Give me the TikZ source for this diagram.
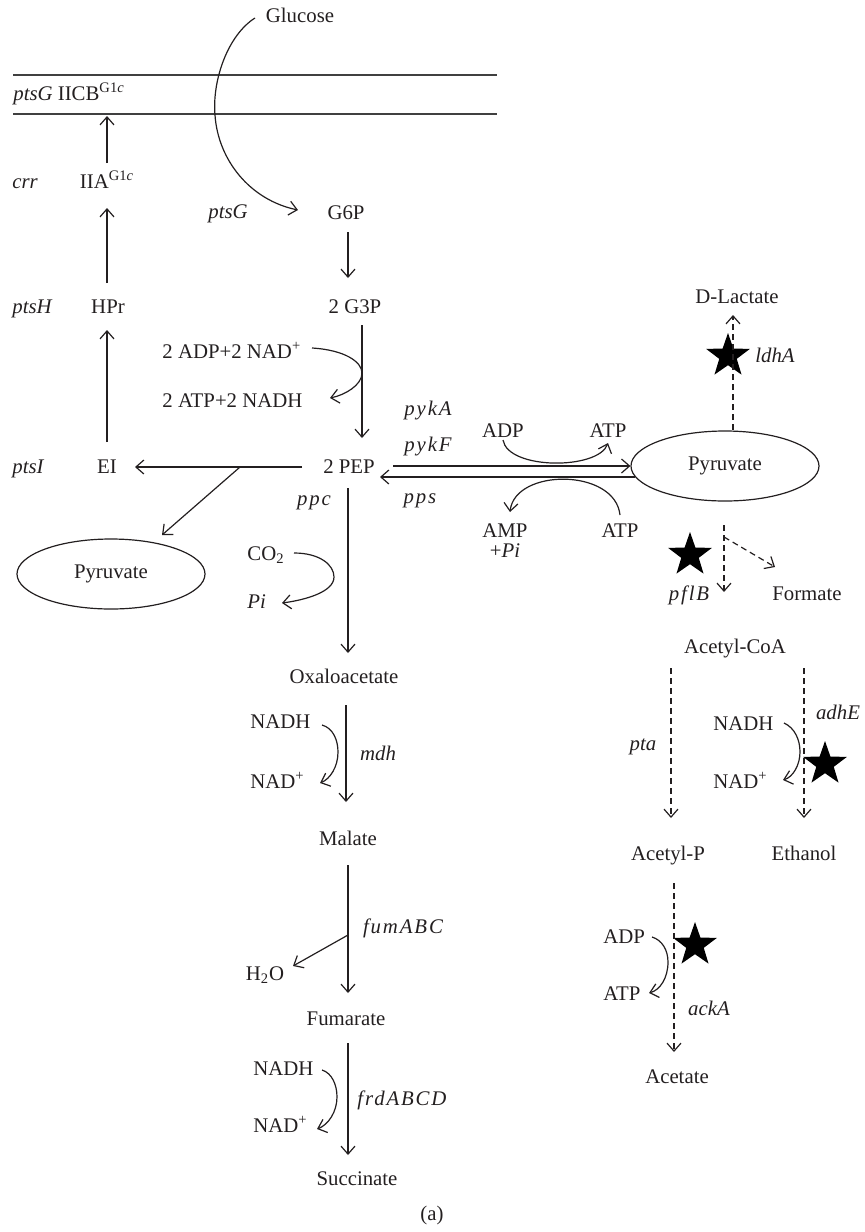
\documentclass[tikz,border=0pt]{standalone}
\usepackage{fontspec}
\setmainfont{Liberation Serif}
\newfontfamily\spfont[LetterSpace=9]{Liberation Serif}
\usetikzlibrary{arrows.meta,shapes.geometric}
\definecolor{ink}{HTML}{231F20}
\definecolor{membcol}{HTML}{404040}
\begin{document}
\begin{tikzpicture}[x=0.5pt,y=-0.5pt,
  every node/.style={inner sep=0pt, text=ink, font=\fontsize{10.4}{12}\selectfont},
  lbl/.style={anchor=base},
  lblw/.style={anchor=base west},
  gene/.style={anchor=base, font=\fontsize{10.4}{12}\selectfont\itshape},
  genew/.style={anchor=base west, font=\fontsize{10.4}{12}\selectfont\itshape},
  sgene/.style={anchor=base, font=\fontsize{10.4}{12}\selectfont\spfont\itshape},
  arr/.style={draw=ink, line width=0.6pt, -{Straight Barb[length=4pt,width=7pt]}},
  darr/.style={arr, dash pattern=on 3pt off 2pt},
  membrane/.style={draw=membcol, line width=0.8pt},
  pool/.style={ellipse, draw=ink, line width=0.6pt, minimum width=94pt, minimum height=35pt},
  kostar/.style={star, star points=5, star point ratio=2.5, fill=black, draw=none, minimum size=23pt, inner sep=0pt},
  ]
\useasboundingbox (0,0) rectangle (864,1232);

% membrane
\draw[membrane] (13,75) -- (497,75);
\draw[membrane] (13,114) -- (497,114);
\coordinate (membin) at (107,116);

% nodes
\node[lbl] (glu) at (300,22) {Glucose};
\node[lblw] (ptsgm) at (13,100) {\textit{ptsG} IICB\textsuperscript{G1\textit{c}}};
\node[genew] (crr) at (12,188) {crr};
\node[lbl] (iia) at (107,188) {IIA\textsuperscript{G1\textit{c}}};
\node[gene] (ptsg) at (228,218) {ptsG};
\node[lbl] (g6p) at (346,219) {G6P};
\node[genew] (ptsh) at (12,313) {ptsH};
\node[lbl] (hpr) at (108,313) {HPr};
\node[lbl] (g3p) at (355,313) {2 G3P};
\node[lblw] (adpnad) at (162,358) {2 ADP+2 NAD\textsuperscript{+}};
\node[lblw] (atpnadh) at (162,407) {2 ATP+2 NADH};
\node[sgene] (pyka) at (428,415) {pykA};
\node[sgene] (pykf) at (428,451) {pykF};
\node[genew] (ptsi) at (12,473) {ptsI};
\node[lbl] (ei) at (107,473) {EI};
\node[lbl] (pep) at (349,473) {2 PEP};
\node[lbl] (adp1) at (503,437) {ADP};
\node[lbl] (atp1) at (608,437) {ATP};
\node[pool] (pyrR) at (725,466) {Pyruvate};
\node[sgene] (pps) at (420,503) {pps};
\node[sgene] (ppc) at (314,505) {ppc};
\node[lbl] (amp) at (505,537) {AMP};
\node[lbl] (pi2) at (505,557) {+\textit{Pi}};
\node[lbl] (atp2) at (620,537) {ATP};
\node[pool] (pyrL) at (111,574) {Pyruvate};
\node[lblw] (co2) at (247,560) {CO\textsubscript{2}};
\node[genew] (pi1) at (247,608) {Pi};
\node[lbl] (dlac) at (737,303) {D-Lactate};
\node[gene] (ldha) at (775,362) {ldhA};
\node[sgene] (pflb) at (689,600) {pflB};
\node[lbl] (form) at (807,600) {Formate};
\node[lbl] (acoa) at (735,653) {Acetyl-CoA};
\node[gene] (pta) at (643,750) {pta};
\node[gene] (adhe) at (838,719) {adhE};
\node[lblw] (nadh3) at (713,730) {NADH};
\node[lblw] (nad3) at (713,788) {NAD\textsuperscript{+}};
\node[lbl] (acp) at (668,860) {Acetyl-P};
\node[lbl] (eth) at (804,860) {Ethanol};
\node[lblw] (adp3) at (603,943) {ADP};
\node[lblw] (atp3) at (603,1000) {ATP};
\node[gene] (acka) at (709,1015) {ackA};
\node[lbl] (acet) at (677,1083) {Acetate};
\node[lbl] (oaa) at (344,683) {Oxaloacetate};
\node[lblw] (nadh1) at (250,728) {NADH};
\node[lblw] (nad1) at (250,788) {NAD\textsuperscript{+}};
\node[gene] (mdh) at (378,760) {mdh};
\node[lbl] (mal) at (348,845) {Malate};
\node[sgene] (fum) at (403,933) {fumABC};
\node[lbl] (h2o) at (265,980) {H\textsubscript{2}O};
\node[lbl] (fumar) at (346,1025) {Fumarate};
\node[lblw] (nadh2) at (253,1075) {NADH};
\node[sgene] (frd) at (402,1105) {frdABCD};
\node[lblw] (nad2) at (253,1132) {NAD\textsuperscript{+}};
\node[lbl] (succ) at (357,1185) {Succinate};
\node[lbl] (capt) at (432,1220) {(a)};

% stars
\node[kostar] (s1) at (728,356) {};
\node[kostar] (s2) at (690,555) {};
\node[kostar] (s3) at (825,764) {};
\node[kostar] (s4) at (695,945) {};

% PTS
\draw[arr] ([shift={(-45,-4)}]glu.base) .. controls (228,35) and (212,80) .. (215,115)
   .. controls (218,160) and (250,200) .. ([shift={(-48,-9)}]g6p.base);
\draw[arr] ([shift={(0,-25)}]iia.base) -- (membin);
\draw[arr] ([shift={(-1,-30)}]hpr.base) -- ([shift={(0,20)}]iia.base);
\draw[arr] ([shift={(0,-31)}]ei.base) -- ([shift={(-1,17)}]hpr.base);

% glycolysis
\draw[arr] ([shift={(2,13)}]g6p.base) -- ([shift={(-7,-35)}]g3p.base);
\draw[arr] ([shift={(7,12)}]g3p.base) -- ([shift={(13,-35)}]pep.base);
\draw[arr] ([shift={(150,-10)}]adpnad.base west) .. controls (345,350) and (362,362) .. (362,373)
   .. controls (362,385) and (345,395) .. ([shift={(168,-9)}]atpnadh.base west);
\draw[arr] ([shift={(-47,-6)}]pep.base) -- coordinate[pos=0.371] (br) ([shift={(28,-6)}]ei.base);
\draw[arr] (br) -- ([shift={(51,-39)}]pyrL.center);

% PEP <-> pyruvate
\draw[arr] ([shift={(44,-7)}]pep.base) -- (pyrR.west);
\draw[arr] ([shift={(-90,11)}]pyrR.center) -- ([shift={(31,4)}]pep.base);
\draw[arr] ([shift={(0,3)}]adp1.base) .. controls (508,470) and (598,470) .. ([shift={(0,6)}]atp1.base);
\draw[arr] ([shift={(0,-22)}]atp2.base) .. controls (615,468) and (515,468) .. ([shift={(5,-25)}]amp.base);

% ppc branch
\draw[arr] ([shift={(-1,15)}]pep.base) -- ([shift={(4,-30)}]oaa.base);
\draw[arr] ([shift={(47,-7)}]co2.base west) .. controls (320,553) and (334,565) .. (334,577)
   .. controls (334,592) and (305,600) .. ([shift={(35,-5)}]pi1.base west);

% fermentation (dashed)
\draw[darr] ([shift={(8,-36)}]pyrR.center) -- ([shift={(-4,12)}]dlac.base);
\draw[darr] ([shift={(-1,59)}]pyrR.center) -- ([shift={(-11,-61)}]acoa.base);
\draw[darr] ([shift={(-1,71)}]pyrR.center) -- ([shift={(-32,-33)}]form.base);
\draw[darr] ([shift={(-64,15)}]acoa.base) -- ([shift={(3,-42)}]acp.base);
\draw[darr] ([shift={(69,15)}]acoa.base) -- ([shift={(0,-42)}]eth.base);
\draw[arr] ([shift={(71,-7)}]nadh3.base west) .. controls (795,728) and (800,740) .. (800,752)
   .. controls (800,765) and (793,777) .. ([shift={(70,-8)}]nad3.base west);
\draw[darr] ([shift={(6,23)}]acp.base) -- ([shift={(-3,-31)}]acet.base);
\draw[arr] ([shift={(49,-6)}]adp3.base west) .. controls (662,940) and (668,950) .. (668,962)
   .. controls (668,978) and (660,990) .. ([shift={(46,-7)}]atp3.base west);

% reductive branch
\draw[arr] ([shift={(2,22)}]oaa.base) -- ([shift={(-2,-43)}]mal.base);
\draw[arr] ([shift={(72,-3)}]nadh1.base west) .. controls (333,728) and (338,740) .. (338,752)
   .. controls (338,767) and (330,779) .. ([shift={(70,-5)}]nad1.base west);
\draw[arr] ([shift={(0,20)}]mal.base) -- coordinate[pos=0.547] (h2obr) ([shift={(2,-32)}]fumar.base);
\draw[arr] (h2obr) -- ([shift={(28,-14)}]h2o.base);
\draw[arr] ([shift={(2,18)}]fumar.base) -- ([shift={(-9,-30)}]succ.base);
\draw[arr] ([shift={(69,-5)}]nadh2.base west) .. controls (332,1073) and (337,1085) .. (337,1097)
   .. controls (337,1112) and (328,1125) .. ([shift={(64,-3)}]nad2.base west);
\end{tikzpicture}
\end{document}
